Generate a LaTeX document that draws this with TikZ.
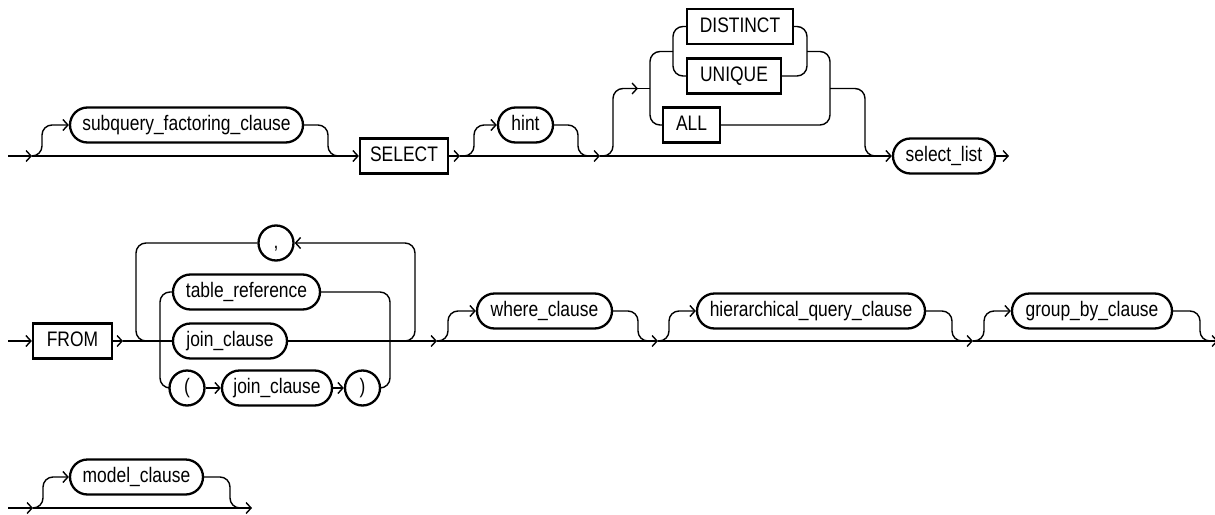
\documentclass[tikz,border=0pt]{standalone}
\usepackage{fontspec}
\newfontfamily\rrfont[FakeStretch=0.83]{Liberation Sans}
\usetikzlibrary{arrows.meta,shapes.misc}
\begin{document}
\begin{tikzpicture}[x=1pt,y=-1pt,
  line width=1.4pt,
  rr/.style={rounded corners=10pt},
  ar/.style={-{Straight Barb[length=5pt,width=11pt]}},
  base/.style={draw, line width=2.3pt, font=\rrfont\fontsize{21}{24}\selectfont,
    minimum height=35pt, inner sep=0pt, text height=15pt, text depth=4pt},
  kw/.style={base, rectangle},
  nt/.style={base, rounded rectangle},
]
\useasboundingbox (0,0) rectangle (1215,514);

% ---------- Row 1 ----------
\node[nt, minimum width=233pt] (sub) at (186.5,125) {subquery\_factoring\_clause};
\node[kw, minimum width=88pt] (select) at (404,156) {SELECT};
\node[nt, minimum width=55pt] (hint) at (525.5,125) {hint};
\node[kw, minimum width=106pt] (distinct) at (740,26.5) {DISTINCT};
\node[kw, minimum width=94pt] (unique) at (734,76) {UNIQUE};
\node[kw, minimum width=57pt] (all) at (691.5,125) {ALL};
\node[nt, minimum width=102pt] (sellist) at (944,156) {select\_list};

\coordinate (s1) at (8,156);
\coordinate (j1) at (32,156);
\coordinate (j2) at (460,156);
\coordinate (j3) at (600,156);
\coordinate (e1) at (1009,156);
\coordinate (c1) at (638,88.5);

\draw[ar] (s1) -- (j1);
\draw[ar] (j1) -- (select.west);
\draw[rr,ar] (j1) -- (42,156) -- (42,125) -- (sub.west);
\draw[rr] (sub.east) -- (328,125) -- (328,156) -- (340,156);
\draw[ar] (select.east) -- (j2);
\draw[ar] (j2) -- (j3);
\draw[rr,ar] (j2) -- (474,156) -- (474,125) -- (hint.west);
\draw[rr] (hint.east) -- (578,125) -- (578,156) -- (590,156);
\draw[ar] (j3) -- (sellist.west);
\draw[rr,ar] (j3) -- (613,156) -- (613,88.5) -- (c1);
\draw (c1) -- (650,88.5);
\draw[rr] (673,51.5) -- (650,51.5) -- (650,125) -- (all.west);
\draw[rr] (distinct.west) -- (673,26.5) -- (673,76) -- (unique.west);
\draw[rr] (distinct.east) -- (807,26.5) -- (807,76) -- (unique.east);
\draw[rr] (807,51.5) -- (830,51.5) -- (830,125) -- (all.east);
\draw[rr] (830,88.5) -- (865,88.5) -- (865,156) -- (877,156);
\draw[ar] (sellist.east) -- (e1);

% ---------- Row 2 ----------
\node[kw, minimum width=79pt] (from) at (72.5,341) {FROM};
\node[nt, minimum width=32pt] (comma) at (276,243) {,};
\node[nt, minimum width=147pt] (tref) at (246.5,292) {table\_reference};
\node[nt, minimum width=114pt] (jc) at (230,341) {join\_clause};
\node[nt, minimum width=31pt] (lp) at (187,388) {(};
\node[nt, minimum width=110pt] (jc2) at (277,388) {join\_clause};
\node[nt, minimum width=31pt] (rp) at (362.5,388) {)};
\node[nt, minimum width=135pt] (where) at (544.5,311) {where\_clause};
\node[nt, minimum width=228pt] (hier) at (811,311) {hierarchical\_query\_clause};
\node[nt, minimum width=160pt] (group) at (1092,311) {group\_by\_clause};

\coordinate (s2) at (8,341);
\coordinate (k1) at (123,341);
\coordinate (k2) at (437,341);
\coordinate (k3) at (658,341);
\coordinate (k4) at (973,341);
\coordinate (e2) at (1218,341);

\draw[ar] (s2) -- (from.west);
\draw[ar] (from.east) -- (k1);
\draw (k1) -- (jc.west);
\draw[ar] (jc.east) -- (k2);
\draw[rr] (comma.west) -- (136,243) -- (136,341) -- (148,341);
\draw[rr,ar] (403,341) -- (415,341) -- (415,243) -- (comma.east);
\draw[rr] (tref.west) -- (160,292) -- (160,388) -- (lp.west);
\draw[rr] (tref.east) -- (390,292) -- (390,388) -- (rp.east);
\draw[ar] (lp.east) -- (jc2.west);
\draw[ar] (jc2.east) -- (rp.west);
\draw[ar] (k2) -- (k3);
\draw[rr,ar] (k2) -- (448,341) -- (448,311) -- (where.west);
\draw[rr] (where.east) -- (638,311) -- (638,341) -- (650,341);
\draw[ar] (k3) -- (k4);
\draw[rr,ar] (k3) -- (669,341) -- (669,311) -- (hier.west);
\draw[rr] (hier.east) -- (952,311) -- (952,341) -- (964,341);
\draw[ar] (k4) -- (e2);
\draw[rr,ar] (k4) -- (984,341) -- (984,311) -- (group.west);
\draw[rr] (group.east) -- (1200,311) -- (1200,341) -- (1212,341);

% ---------- Row 3 ----------
\node[nt, minimum width=133pt] (model) at (136.5,477) {model\_clause};
\coordinate (s3) at (8,508);
\coordinate (m1) at (33,508);
\coordinate (e3) at (252,508);
\draw[ar] (s3) -- (m1);
\draw[ar] (m1) -- (e3);
\draw[rr,ar] (m1) -- (43,508) -- (43,477) -- (model.west);
\draw[rr] (model.east) -- (230,477) -- (230,508) -- (242,508);
\end{tikzpicture}
\end{document}
